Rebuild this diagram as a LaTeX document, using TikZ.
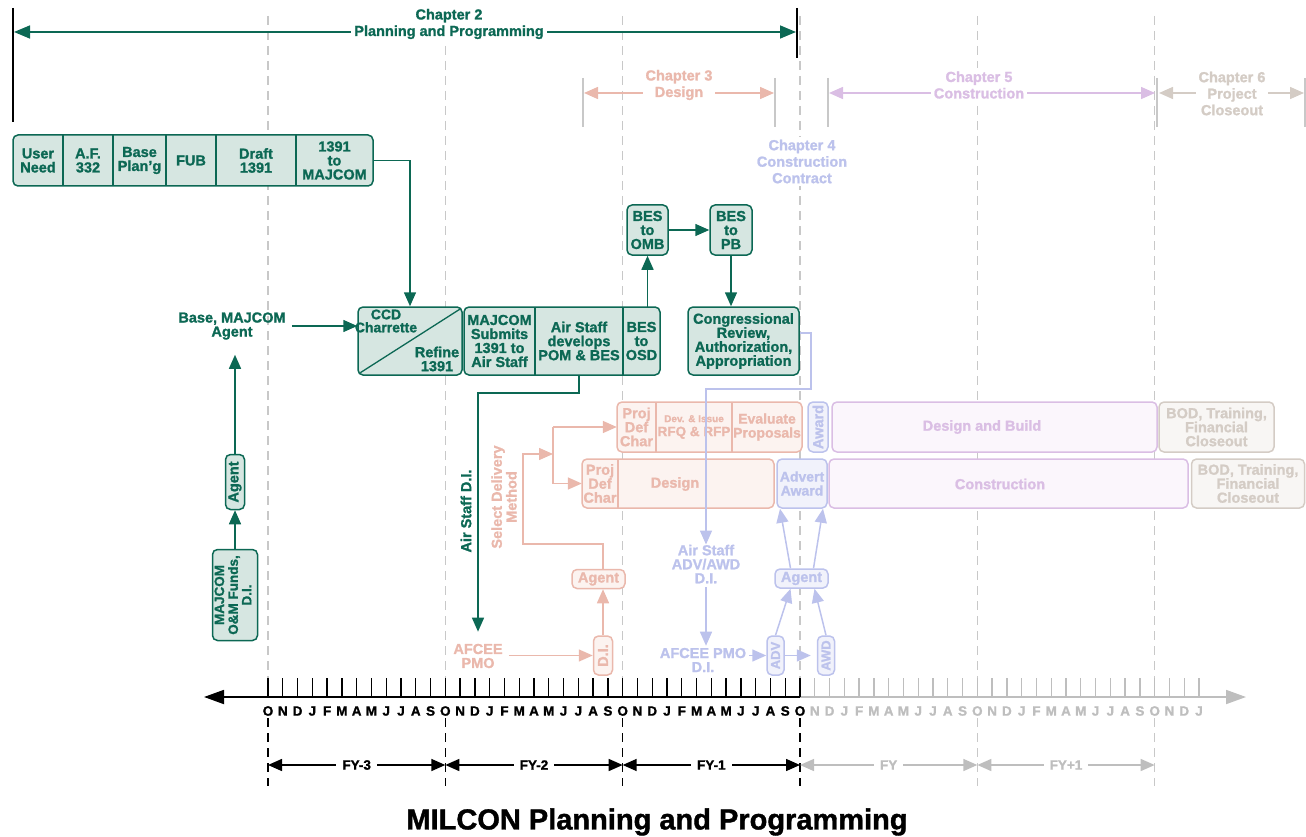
\documentclass[tikz,border=0pt]{standalone}
\usepackage{fontspec}
\setmainfont{Liberation Sans}[BoldFeatures={FakeBold=1.3}]
\usetikzlibrary{arrows.meta,calc}
\definecolor{grn}{RGB}{12,104,84}
\definecolor{grnfill}{RGB}{214,230,225}
\definecolor{pnk}{RGB}{234,184,172}
\definecolor{pnkfill}{RGB}{252,243,240}
\definecolor{lav}{RGB}{188,194,236}
\definecolor{lavfill}{RGB}{241,242,251}
\definecolor{pur}{RGB}{218,190,228}
\definecolor{purfill}{RGB}{251,246,252}
\definecolor{bei}{RGB}{212,204,197}
\definecolor{beifill}{RGB}{248,246,244}
\definecolor{dgray}{RGB}{200,200,200}
\definecolor{tgray}{RGB}{190,190,190}
\tikzset{
  tx/.style={font=\bfseries\fontsize{14.5}{14}\selectfont, align=center, inner sep=0pt},
  chl/.style={font=\bfseries\fontsize{14.5}{16.5}\selectfont, align=center, inner sep=3pt, fill=white},
  mon/.style={font=\bfseries\fontsize{13.5}{13.5}\selectfont, inner sep=0pt},
  box/.style={tx, rounded corners=5pt, line width=1.5pt},
  gb/.style={box, draw=grn, fill=grnfill, text=grn},
  pb/.style={box, draw=pnk, fill=pnkfill, text=pnk},
  lb/.style={box, draw=lav, fill=lavfill, text=lav},
  ub/.style={box, draw=pur, fill=purfill, text=pur},
  bb/.style={box, draw=bei, fill=beifill, text=bei},
  sz/.style 2 args={minimum width=#1, minimum height=#2},
  arr/.style={line width=1.5pt, -{Triangle[length=14pt,width=12pt]}},
  darr/.style={line width=1.5pt, {Triangle[length=14pt,width=12pt]}-{Triangle[length=14pt,width=12pt]}},
  ydash/.style={line width=1.3pt, dash pattern=on 9pt off 6pt},
}
\begin{document}
\begin{tikzpicture}[x=1pt,y=-1pt]
\useasboundingbox (0,0) rectangle (1306,837);

% ---------- year dashed lines ----------
\foreach \k in {0,...,5}{
  \pgfmathsetmacro\xx{268+\k*177.3333}
  \draw[dgray, ydash] (\xx,16) -- (\xx,680);
}
\foreach \k in {0,...,3}{
  \pgfmathsetmacro\xx{268+\k*177.3333}
  \draw[black, ydash] (\xx,718) -- (\xx,786);
}
\foreach \k in {4,5}{
  \pgfmathsetmacro\xx{268+\k*177.3333}
  \draw[dgray, ydash] (\xx,718) -- (\xx,786);
}

% ---------- timeline ----------
\coordinate (axL) at (204,697);
\coordinate (axM) at (800,697);
\coordinate (axR) at (1246,697);
\draw[black, line width=1.8pt, {Triangle[length=20pt,width=14pt]}-] (axL) -- (axM);
\draw[tgray, line width=1.8pt, -{Triangle[length=20pt,width=14pt]}] (axM) -- (axR);
\foreach \l [count=\i from 0] in {O,N,D,J,F,M,A,M,J,J,A,S,O,N,D,J,F,M,A,M,J,J,A,S,O,N,D,J,F,M,A,M,J,J,A,S,O}{
  \pgfmathsetmacro\xx{268+\i*14.7778}
  \draw[black, line width=1.3pt] (\xx,678) -- (\xx,697);
  \node[mon] (m\i) at (\xx,711) {\l};
}
\foreach \l [count=\i from 37] in {N,D,J,F,M,A,M,J,J,A,S,O,N,D,J,F,M,A,M,J,J,A,S,O,N,D,J}{
  \pgfmathsetmacro\xx{268+\i*14.7778}
  \draw[tgray, line width=1.3pt] (\xx,678) -- (\xx,697);
  \node[mon, text=tgray] (m\i) at (\xx,711) {\l};
}
\foreach \k/\t/\c in {0/FY-3/black,1/FY-2/black,2/FY-1/black,3/FY/tgray,4/FY+1/tgray}{
  \pgfmathsetmacro\xa{268+\k*177.3333}
  \pgfmathsetmacro\xb{268+(\k+1)*177.3333}
  \pgfmathsetmacro\xm{268+(\k+0.5)*177.3333}
  \coordinate (fa\k) at (\xa,765);
  \coordinate (fb\k) at (\xb,765);
  \draw[\c, darr] (fa\k) -- (fb\k);
  \node[mon, fill=white, inner sep=6pt, text=\c] (fy\k) at (\xm,765) {\t};
}

% ---------- chapter headers ----------
\coordinate (c2l) at (14,32); \coordinate (c2r) at (796,32);
\draw[grn, line width=1.6pt, {Triangle[length=16pt,width=13pt]}-{Triangle[length=16pt,width=13pt]}] (c2l) -- (c2r);
\draw[black, line width=1.6pt] (13,8) -- (13,122);
\draw[black, line width=1.6pt] (797,8) -- (797,58);
\node[chl, text=grn] (ch2) at (449,24) {Chapter 2\\Planning and Programming};

\coordinate (c3l) at (584,93); \coordinate (c3r) at (774,93);
\draw[dgray, line width=1.3pt] (583,78) -- (583,127);
\draw[dgray, line width=1.3pt] (775,78) -- (775,127);
\draw[pnk, darr] (c3l) -- (c3r);
\node[chl, text=pnk] (ch3) at (679,85) {Chapter 3\\Design};

\node[chl, text=lav] (ch4) at (802,161.5) {Chapter 4\\Construction\\Contract};

\coordinate (c5l) at (829,93); \coordinate (c5r) at (1155,93);
\draw[dgray, line width=1.3pt] (828,78) -- (828,127);
\draw[pur, darr] (c5l) -- (c5r);
\node[chl, text=pur] (ch5) at (979,85) {Chapter 5\\Construction};

\coordinate (c6l) at (1159,93); \coordinate (c6r) at (1304,93);
\draw[dgray, line width=1.3pt] (1157,78) -- (1157,127);
\draw[dgray, line width=1.3pt] (1305,78) -- (1305,127);
\draw[bei, darr] (c6l) -- (c6r);
\node[chl, text=bei] (ch6) at (1232,93.5) {Chapter 6\\Project\\Closeout};

% ---------- green: top row ----------
\path[gb] (13,135) rectangle (373,186);
\foreach \x in {63,113,166,216,296} \draw[grn, line width=1.3pt] (\x,135) -- (\x,186);
\node[tx, text=grn, sz={50pt}{51pt}] (un) at (38,160.5) {User\\Need};
\node[tx, text=grn, sz={50pt}{51pt}] (af) at (88,160.5) {A.F.\\332};
\node[tx, text=grn, sz={53pt}{51pt}] (bp) at (139.5,160.5) {Base\\Plan’g};
\node[tx, text=grn, sz={50pt}{51pt}] (fub) at (191,160.5) {FUB};
\node[tx, text=grn, sz={80pt}{51pt}] (dr) at (256,160.5) {Draft\\1391};
\node[tx, text=grn, sz={77pt}{51pt}] (maj) at (334.5,160.5) {1391\\to\\MAJCOM};

% ---------- green: middle row ----------
\node[gb, sz={104pt}{68pt}] (ccd) at (410,341) {};
\draw[grn, line width=1.3pt] ($(ccd.south west)+(3,-3)$) -- ($(ccd.north east)+(-3,3)$);
\node[tx, text=grn, font=\bfseries\fontsize{14}{13}\selectfont] (ccdt) at (386,321) {CCD\\Charrette};
\node[tx, text=grn] (reft) at (437,359) {Refine\\1391};

\path[gb] (464,307) rectangle (660,375);
\foreach \x in {535,623} \draw[grn, line width=1.3pt] (\x,307) -- (\x,375);
\node[tx, text=grn, sz={71pt}{68pt}] (ms) at (499.5,341) {MAJCOM\\Submits\\1391 to\\Air Staff};
\node[tx, text=grn, sz={88pt}{68pt}] (asd) at (579,341) {Air Staff\\develops\\POM \& BES};
\node[tx, text=grn, sz={37pt}{68pt}] (osd) at (641.5,341) {BES\\to\\OSD};

\node[gb, sz={41pt}{50pt}] (omb) at (647.5,230) {BES\\to\\OMB};
\node[gb, sz={42pt}{50pt}] (pbn) at (731,230) {BES\\to\\PB};
\node[gb, sz={111pt}{68pt}] (cong) at (743.5,341) {Congressional\\Review,\\Authorization,\\Appropriation};

\draw[grn, arr] (maj.east) -| (ccd.north);
\draw[grn, arr] (omb.south |- osd.north) -- (omb.south);
\draw[grn, arr] (omb.east) -- (pbn.west);
\draw[grn, arr] (pbn.south) -- (pbn.south |- cong.north);

% ---------- green: left column ----------
\node[tx, text=grn] (bma) at (232,326) {Base, MAJCOM\\Agent};
\draw[grn, arr, shorten <=6pt] (bma.east) -- (bma.east -| ccd.west);
\node[gb, sz={19pt}{55pt}] (ag1) at (235,482) {\rotatebox{90}{Agent}};
\node[gb, sz={45pt}{91pt}] (mom) at (235,595) {\rotatebox{90}{\fontsize{13.5}{13.5}\selectfont\begin{tabular}{@{}c@{}}MAJCOM\\O\&M Funds,\\D.I.\end{tabular}}};
\draw[grn, arr] (mom.north) -- (ag1.south);
\draw[grn, arr, shorten >=15pt] (ag1.north) -- (ag1.north |- bma.south);

% ---------- pink ----------
\path[pb] (617,402) rectangle (802,452);
\foreach \x in {656,732} \draw[pnk, line width=1.3pt] (\x,402) -- (\x,452);
\node[tx, text=pnk, sz={39pt}{50pt}] (pdc1) at (636.5,427) {Proj\\Def\\Char};
\node[tx, text=pnk, sz={76pt}{50pt}] (dev) at (694,427) {{\fontsize{10}{11}\selectfont Dev. \& Issue}\\{\fontsize{13.5}{14}\selectfont RFQ \& RFP}};
\node[tx, text=pnk, sz={70pt}{50pt}, font=\bfseries\fontsize{14}{14}\selectfont] (ev) at (767,427) {Evaluate\\Proposals};

\path[pb] (582,459) rectangle (774,508);
\draw[pnk, line width=1.3pt] (618,459) -- (618,508);
\node[tx, text=pnk, sz={36pt}{49pt}] (pdc2) at (600,483.5) {Proj\\Def\\Char};
\node[tx, text=pnk] (des) at (675,484) {Design};

\node[tx, text=pnk] (afp) at (478,656) {AFCEE\\PMO};
\node[pb, sz={19pt}{39pt}] (di1) at (603,655.5) {\rotatebox{90}{D.I.}};
\node[pb, sz={53pt}{19pt}] (ag2) at (598.5,579) {Agent};
\node[tx, text=pnk] (sdm) at (506,497) {\rotatebox{90}{\begin{tabular}{@{}c@{}}Select Delivery\\Method\end{tabular}}};

\draw[pnk, arr, shorten <=6pt] (afp.east |- di1.west) -- (di1.west);
\draw[pnk, arr] (di1.north) -- (di1.north |- ag2.south);
\coordinate (p1) at (523,544);
\coordinate (p2) at (553,454);
\coordinate (br1) at (553,427);
\coordinate (br2) at (553,483.5);
\draw[pnk, arr] (ag2.north -| di1.north) |- (p1) |- (p2);
\draw[pnk, line width=1.5pt] (br1) -- (br2);
\draw[pnk, arr] (br1) -- (pdc1.west);
\draw[pnk, arr] (br2) -- (pdc2.west);

% ---------- green Air Staff D.I. ----------
\coordinate (b1) at (478,393);
\draw[grn, arr, shorten >=12pt] (asd.south) |- (b1) -- (afp.north);
\node[tx, text=grn] (asdi) at (466,511) {\rotatebox{90}{Air Staff D.I.}};

% ---------- purple / beige boxes ----------
\node[ub, sz={325pt}{50pt}] (db) at (994.5,427) {};
\node[tx, text=pur] (dbt) at (982,427) {Design and Build};
\node[ub, sz={359pt}{49pt}] (con) at (1008.5,483.5) {};
\node[tx, text=pur] (cont) at (1000,484) {Construction};
\node[bb, sz={115pt}{50pt}] (bod1) at (1216.5,427) {BOD, Training,\\Financial\\Closeout};
\node[bb, sz={113pt}{49pt}] (bod2) at (1248,483.5) {BOD, Training,\\Financial\\Closeout};

% ---------- lavender ----------
\node[lb, sz={20pt}{50pt}] (aw) at (818,427) {\rotatebox{90}{Award}};
\node[lb, sz={50pt}{49pt}, font=\bfseries\fontsize{14}{14}\selectfont] (aa) at (802,483.5) {Advert\\Award};
\node[tx, text=lav] (asadv) at (706,564) {Air Staff\\ADV/AWD\\D.I.};
\node[tx, text=lav] (afp2) at (703,660) {AFCEE PMO\\D.I.};
\node[lb, sz={17pt}{39pt}, font=\bfseries\fontsize{13}{13}\selectfont] (adv) at (775.5,655.5) {\rotatebox{90}{ADV}};
\node[lb, sz={17pt}{39pt}, font=\bfseries\fontsize{13}{13}\selectfont] (awd) at (826,655.5) {\rotatebox{90}{AWD}};
\node[lb, sz={53pt}{19pt}] (ag3) at (801.5,578.5) {Agent};

\coordinate (l1) at (811,389);
\draw[lav, arr] ($(cong.east)+(0,-8)$) -| (l1) -| (asadv.north);
\draw[lav, arr, shorten <=4pt, shorten >=2pt] (asadv.south) -- (asadv.south |- afp2.north);
\draw[lav, arr, shorten <=3pt] (afp2.east |- adv.west) -- (adv.west);
\draw[lav, arr, shorten >=6pt] (adv.east) -- (awd.west);
\draw[lav, arr] (adv.north) -- ([xshift=-11pt]ag3.south);
\draw[lav, arr] (awd.north) -- ([xshift=13pt]ag3.south);
\draw[lav, arr] ([xshift=-11pt]ag3.north) -- ([xshift=-22pt]aa.south);
\draw[lav, arr] ([xshift=12pt]ag3.north) -- ([xshift=21pt]aa.south);

% ---------- title ----------
\node[font=\bfseries\fontsize{29}{32}\selectfont, inner sep=0pt] (title) at (657,822) {MILCON Planning and Programming};
\end{tikzpicture}
\end{document}
